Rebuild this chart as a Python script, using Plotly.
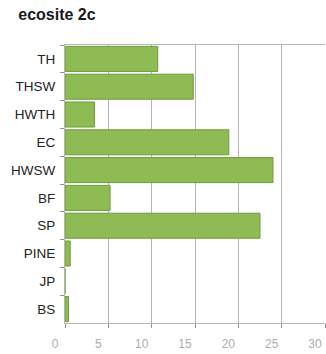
import plotly.graph_objects as go

# Species groups (top to bottom) and their share in ecosite 2c
categories = ["TH", "THSW", "HWTH", "EC", "HWSW", "BF", "SP", "PINE", "JP", "BS"]
values = [10.7, 14.8, 3.4, 18.9, 24.0, 5.2, 22.5, 0.6, 0.0, 0.4]
x_ticks = [0, 5, 10, 15, 20, 25, 30]

fig = go.Figure(
    go.Bar(
        x=values,
        y=categories,
        orientation="h",
        marker=dict(color="#8fbb55", line=dict(color="#6e9a3c", width=1)),
    )
)

fig.update_layout(
    width=326,
    height=354,
    margin=dict(l=65, r=1, t=45, b=31),
    paper_bgcolor="white",
    plot_bgcolor="white",
    bargap=0.1,
    showlegend=False,
    title=dict(
        text="<b>ecosite 2c</b>",
        x=0.056,
        xanchor="left",
        y=0.958,
        yanchor="middle",
        font=dict(family="Liberation Sans, Arial", size=16, color="#1a1a1a"),
    ),
)

fig.update_xaxes(
    range=[0, 30],
    tickvals=x_ticks,
    showgrid=True,
    gridcolor="#b5b5b5",
    gridwidth=1,
    showline=True,
    linecolor="#b5b5b5",
    mirror=True,
    zeroline=False,
    ticks="outside",
    ticklen=4,
    tickcolor="#909090",
    tickfont=dict(family="Liberation Sans, Arial", size=12, color="#adadad"),
    ticklabelstandoff=6,
    ticklabelshift=-10,
)

fig.update_yaxes(
    autorange="reversed",
    showgrid=False,
    showline=True,
    linecolor="#b5b5b5",
    ticks="outside",
    tickson="boundaries",
    ticklen=4,
    tickcolor="#909090",
    tickfont=dict(family="Liberation Sans, Arial", size=13.5, color="#222"),
    ticklabelstandoff=6,
)

fig.write_html("out.html")
